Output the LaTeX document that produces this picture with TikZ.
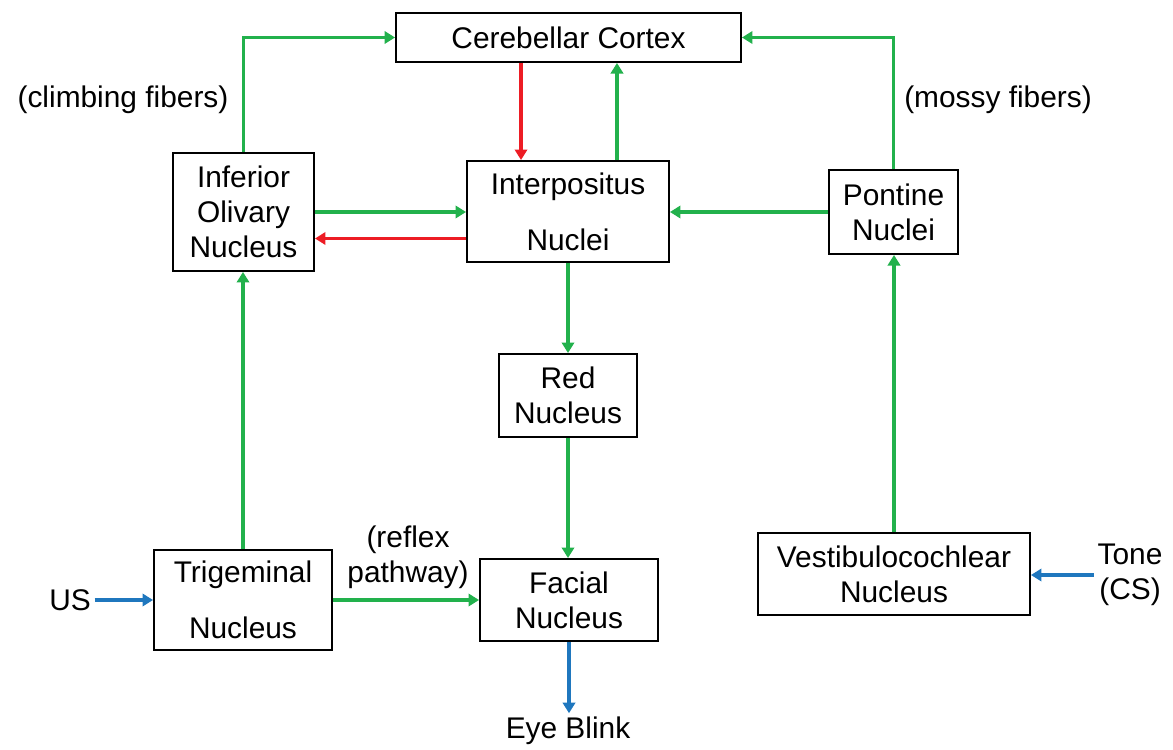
\documentclass[tikz,border=0pt]{standalone}
\usepackage{fontspec}
\setmainfont{Liberation Sans}
\usetikzlibrary{arrows.meta,positioning}
\definecolor{fibgreen}{RGB}{34,177,76}
\definecolor{inhred}{RGB}{237,28,36}
\definecolor{extblue}{RGB}{31,119,190}
\tikzset{
    nucleus/.style={draw, line width=1.1pt, fill=white, align=center, inner sep=0pt,
      font=\fontsize{17}{20}\selectfont},
    lbl/.style={align=center, inner sep=2pt, font=\fontsize{17}{20}\selectfont},
    conn/.style={line width=2.2pt, -{Triangle[length=6pt,width=7pt]}},
    exc/.style={conn, fibgreen},
    inh/.style={conn, inhred},
    ext/.style={conn, extblue},
  }
\begin{document}
\begin{tikzpicture}[x=0.02cm, y=-0.02cm]
  % 1 unit = 1 pixel of the original figure
  \useasboundingbox (0,0) rectangle (1173,750);
  \node[nucleus, minimum width=6.9cm, minimum height=0.98cm] (cortex) at (568.5,37.5) {Cerebellar Cortex};
  \node[nucleus, minimum width=2.82cm, minimum height=2.36cm] (olive) at (243.5,212) {Inferior\\Olivary\\Nucleus};
  \node[nucleus, minimum width=4.04cm, minimum height=2.02cm] (interp) at (568,211.5) {Interpositus\\[12pt]Nuclei};
  \node[nucleus, minimum width=2.58cm, minimum height=1.68cm] (pontine) at (893.5,212) {Pontine\\Nuclei};
  \node[nucleus, minimum width=2.76cm, minimum height=1.66cm] (rednuc) at (568,395.5) {Red\\Nucleus};
  \node[nucleus, minimum width=3.56cm, minimum height=2.0cm] (trig) at (243,600) {Trigeminal\\[12pt]Nucleus};
  \node[nucleus, minimum width=3.56cm, minimum height=1.64cm] (facial) at (569,600) {Facial\\Nucleus};
  \node[nucleus, minimum width=5.44cm, minimum height=1.64cm] (vestib) at (894,574) {Vestibulocochlear\\Nucleus};
  % free labels
  \node[lbl] (climb) at (123,100) {(climbing fibers)};
  \node[lbl] (mossy) at (998,100) {(mossy fibers)};
  \node[lbl] (reflex) at (408,557) {(reflex\\pathway)};
  \node[lbl] (us) at (70,600) {US};
  \node[lbl] (tone) at (1130,575) {Tone\\(CS)};
  \node[lbl] (blink) at (568,731) {Eye Blink};
  % connections
  \draw[exc] (olive.north) |- (cortex.west);
  \draw[exc] (pontine.north) |- (cortex.east);
  \draw[inh] ([xshift=-0.95cm]cortex.south) -- ([xshift=-0.95cm]cortex.south |- interp.north);
  \draw[exc] ([xshift=0.98cm]interp.north) -- ([xshift=0.98cm]interp.north |- cortex.south);
  \draw[exc] (olive.east) -- (olive.east -| interp.west);
  \draw[inh] ([yshift=-0.54cm]interp.west) -- ([yshift=-0.54cm]interp.west -| olive.east);
  \draw[exc] (pontine.west) -- (pontine.west -| interp.east);
  \draw[exc] (interp.south) -- (interp.south |- rednuc.north);
  \draw[exc] (rednuc.south) -- (rednuc.south |- facial.north);
  \draw[exc] (trig.north) -- (trig.north |- olive.south);
  \draw[exc] (trig.east) -- (trig.east -| facial.west);
  \draw[exc] (vestib.north) -- (vestib.north |- pontine.south);
  \draw[ext] (us) -- (us -| trig.west);
  \draw[ext] (tone) -- (tone -| vestib.east);
  \draw[ext] (facial.south) -- (facial.south |- blink.north);
\end{tikzpicture}
\end{document}
